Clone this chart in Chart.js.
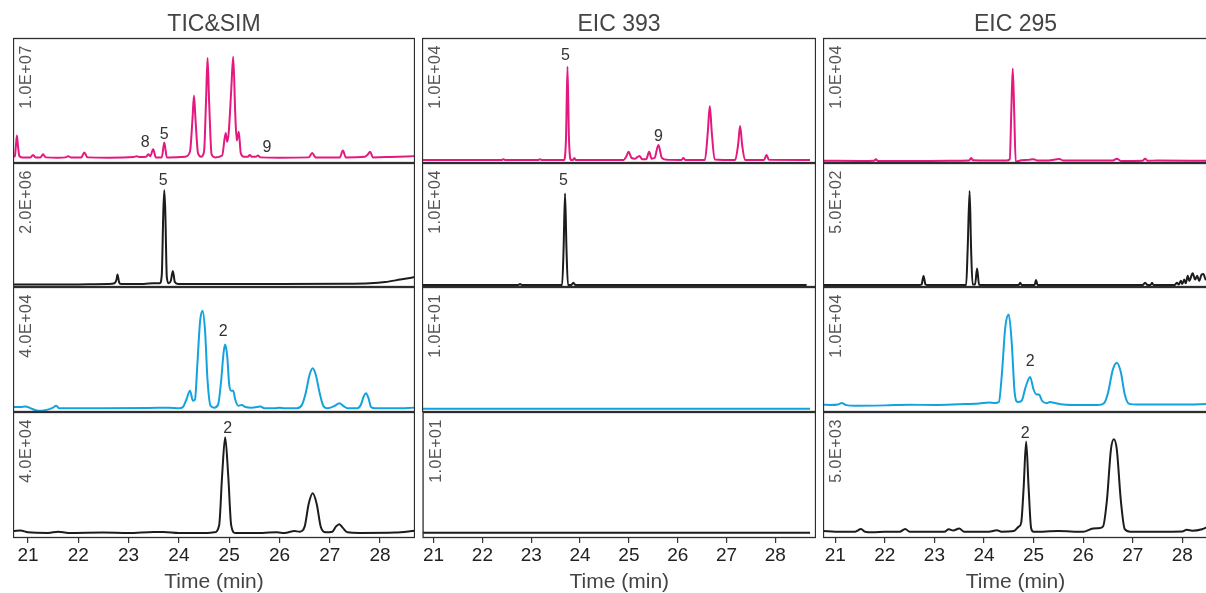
<!DOCTYPE html>
<html>
<head>
<meta charset="utf-8">
<script src="https://cdn.jsdelivr.net/npm/chart.js@4/dist/chart.umd.min.js"></script>
<style>
body{margin:0;background:#fff;width:1206px;height:593px;overflow:hidden;position:relative}
canvas{position:absolute}
</style>
</head>
<body>
<script>
// ---- data: [time (min), relative height in panel (%)] ----
var timeTicks = [21, 22, 23, 24, 25, 26, 27, 28];
var columnTitles = ['TIC&SIM', 'EIC 393', 'EIC 295'];

var ticSimScales = ['1.0E+07', '2.0E+06', '4.0E+04', '4.0E+04'];
var eic393Scales = ['1.0E+04', '1.0E+04', '1.0E+01', '1.0E+01'];
var eic295Scales = ['1.0E+04', '5.0E+02', '1.0E+04', '5.0E+03'];

var ticSimA = [[20.70,5],[20.74,5.5],[20.76,14],[20.78,22],[20.80,14],[20.83,5.5],[20.88,4.5],[21.05,4.5],[21.10,6.5],[21.15,4.5],[21.25,4.5],[21.30,7],[21.35,4.5],[21.60,4.3],[21.75,4.5],[21.80,5.5],[21.85,4.5],[22.06,4.5],[22.12,8.5],[22.18,4.5],[22.60,4.3],[23.10,4.8],[23.16,5.5],[23.22,4.8],[23.35,5],[23.39,7],[23.43,5.5],[23.49,11],[23.54,4.5],[23.66,4.5],[23.71,16.5],[23.76,4.5],[24.12,5],[24.22,9],[24.27,35],[24.30,54],[24.33,35],[24.38,8],[24.44,5],[24.50,9],[24.54,50],[24.57,84],[24.60,50],[24.65,7],[24.72,4.5],[24.86,6],[24.93,24],[24.96,17],[24.99,24],[25.04,58],[25.08,85],[25.12,40],[25.15,18],[25.19,25],[25.23,8],[25.29,5],[25.37,5],[25.41,6.5],[25.45,5],[25.53,5],[25.57,6],[25.62,4.5],[26.00,4.3],[26.58,4.5],[26.65,8],[26.72,4.5],[27.00,4.5],[27.20,4.5],[27.26,10],[27.32,4.5],[27.70,5],[27.76,7],[27.80,9],[27.86,4.5],[28.20,4.8],[28.69,5.5]];
var ticSimB = [[20.72,2],[21.50,2],[22.60,2.5],[22.72,3],[22.76,6],[22.78,10],[22.81,4],[22.85,2.5],[23.30,2.5],[23.50,3],[23.62,3],[23.66,10],[23.69,60],[23.71,78],[23.73,60],[23.76,8],[23.80,3],[23.84,5],[23.88,13],[23.92,4],[23.98,2.5],[25.00,2.5],[26.00,2.5],[27.30,2.6],[27.80,3],[28.10,4],[28.40,6],[28.69,8]];
var ticSimC = [[20.70,4],[20.85,4],[20.95,4.5],[21.05,3],[21.20,1],[21.35,1.5],[21.50,3.5],[21.56,5],[21.62,3],[21.80,3],[22.50,3],[23.40,3.2],[23.80,3.5],[24.00,3],[24.08,4],[24.15,10],[24.22,17],[24.28,9],[24.32,10],[24.37,40],[24.42,72],[24.47,81],[24.52,65],[24.57,25],[24.63,5],[24.70,3.5],[24.78,6],[24.84,25],[24.89,48],[24.92,54],[24.96,45],[25.00,22],[25.04,17],[25.08,17],[25.12,10],[25.18,5],[25.25,5.6],[25.32,4],[25.45,3.5],[25.55,4],[25.62,4.5],[25.70,3],[25.90,3],[26.00,3.5],[26.10,3],[26.35,3],[26.45,6],[26.52,15],[26.60,30],[26.66,35],[26.72,30],[26.80,15],[26.87,5],[26.95,3],[27.10,5],[27.19,7],[27.28,4.5],[27.35,3],[27.55,3],[27.62,6],[27.67,12],[27.72,15],[27.77,11],[27.82,4],[27.90,3],[28.30,3],[28.69,3.5]];
var ticSimD = [[20.72,5.5],[20.85,6],[21.00,4.5],[21.40,4],[21.60,5],[21.80,4],[22.50,4.3],[23.00,4],[23.50,4.8],[23.70,4.8],[24.00,4],[24.50,4],[24.70,4.5],[24.80,10],[24.86,50],[24.92,80],[24.98,50],[25.04,10],[25.12,4],[25.50,4],[25.95,4.5],[26.10,4],[26.30,5.5],[26.40,5],[26.50,9],[26.58,27],[26.66,35.5],[26.74,27],[26.82,9],[26.92,4.5],[27.05,5],[27.12,9],[27.19,11],[27.26,8],[27.35,4.5],[27.60,4],[28.30,4.3],[28.69,5.8]];

var eic393A = [[20.78,2.4],[22.40,2.4],[22.44,3],[22.48,2.4],[23.15,2.4],[23.19,3],[23.23,2.4],[23.68,2.4],[23.72,20],[23.75,77],[23.78,20],[23.82,2.4],[23.86,2.4],[23.89,4],[23.92,2.4],[24.90,2.5],[24.95,5],[25.00,9],[25.06,4],[25.13,3.5],[25.22,5.6],[25.28,3],[25.36,3],[25.42,9],[25.47,3.5],[25.53,4],[25.61,14.4],[25.68,4],[25.80,2.5],[26.08,2.4],[26.12,4],[26.16,2.4],[26.56,2.4],[26.62,25],[26.66,45.6],[26.70,25],[26.76,2.8],[27.18,2.4],[27.24,15],[27.28,29.6],[27.32,15],[27.38,2.5],[27.77,2.5],[27.82,6.4],[27.87,2.5],[28.71,2.4]];
var eic393B = [[20.78,1.6],[22.74,1.6],[22.78,2.5],[22.82,1.6],[23.64,1.6],[23.67,30],[23.70,75.5],[23.73,30],[23.76,1.6],[23.83,1.6],[23.87,3.5],[23.91,1.6],[28.64,1.6]];
var eic393C = [[20.78,2.6],[28.71,2.6]];
var eic393D = [[20.78,4.2],[28.71,4.2]];

var eic295A = [[20.76,1.8],[21.50,1.6],[21.78,1.8],[21.82,3],[21.86,1.6],[22.50,1.6],[23.30,1.8],[23.70,2],[23.74,4],[23.78,2.2],[24.10,2],[24.45,2],[24.52,3],[24.55,40],[24.58,75.7],[24.61,40],[24.64,1],[24.75,2.2],[24.90,2.5],[25.00,3],[25.08,2],[25.30,2],[25.52,3.2],[25.60,2],[26.00,2],[26.60,2],[26.68,3.5],[26.76,1.6],[27.20,1.8],[27.25,3.5],[27.30,1.8],[27.50,2],[28.52,1.8]];
var eic295B = [[20.76,1.6],[22.70,1.6],[22.74,2],[22.78,8.9],[22.82,2],[22.86,1.6],[23.64,1.6],[23.67,30],[23.71,77.4],[23.74,30],[23.77,2],[23.82,2],[23.86,15],[23.90,2],[23.95,1.6],[24.70,1.6],[24.73,3.5],[24.76,1.6],[25.02,1.6],[25.05,5.6],[25.08,1.6],[27.20,1.6],[27.25,3.5],[27.30,1.6],[27.36,1.6],[27.39,3.5],[27.42,1.6],[27.85,1.6],[27.89,3.5],[27.93,2],[27.97,5],[28.00,2.5],[28.04,6],[28.07,3],[28.11,9],[28.14,5],[28.21,11],[28.26,6],[28.30,9],[28.34,5],[28.39,10],[28.43,10.5],[28.47,6],[28.52,9]];
var eic295C = [[20.76,5.8],[20.90,5.6],[21.05,6],[21.13,7.2],[21.22,5.5],[21.40,5],[22.00,5.3],[22.50,5.8],[23.00,5.6],[23.50,6.2],[23.90,6.8],[24.10,7.6],[24.22,7.2],[24.30,8],[24.36,30],[24.43,68],[24.50,78],[24.56,55],[24.62,15],[24.68,8],[24.76,9],[24.84,20],[24.93,28],[25.00,18],[25.06,14],[25.11,14],[25.17,9],[25.26,7],[25.33,8],[25.45,7],[25.60,6],[25.90,5.6],[26.30,5.6],[26.42,7],[26.50,15],[26.60,34],[26.68,39.5],[26.76,32],[26.84,14],[26.93,6.5],[27.10,6],[27.50,6],[28.00,6],[28.52,6.4]];
var eic295D = [[20.76,5.5],[21.00,5],[21.40,5],[21.52,7.1],[21.60,5],[21.75,4.5],[22.00,5],[22.30,5],[22.41,7.1],[22.50,5],[23.20,5],[23.29,7],[23.38,6],[23.50,7.5],[23.60,5],[24.10,5],[24.26,6.2],[24.35,5],[24.60,5.5],[24.70,9],[24.75,12],[24.80,40],[24.85,76.5],[24.90,40],[24.95,8],[25.00,5],[25.50,5.5],[26.00,5],[26.20,7.5],[26.30,7.7],[26.40,9],[26.48,30],[26.56,70],[26.62,78.3],[26.68,70],[26.76,30],[26.84,7],[26.95,5],[27.50,5],[28.00,5.2],[28.09,6.5],[28.20,5.8],[28.40,7],[28.52,9]];

// peak numbers: [time, height %, label]
var ticSimPeaks = [[[23.33,16,'8'],[23.71,23,'5'],[25.75,12,'9']], [[23.69,86,'5']], [[24.88,64,'2']], [[24.97,87,'2']]];
var eic393Peaks = [[[23.71,86,'5'],[25.61,21,'9']], [[23.67,86,'5']], [], []];
var eic295Peaks = [[], [], [[24.93,40,'2']], [[24.83,83,'2']]];

// ---- layout ----
var FONT = '"Liberation Sans", Arial, sans-serif';
var PINK = '#e4187f', BLUE = '#14a2df', BLACK = '#1c1c1c';
var rowColors = [PINK, BLACK, BLUE, BLACK];
var rowTops = [38, 163, 287, 412];
var rowHeights = [125, 124, 125, 126];
var columns = [
    {left: 13, width: 402, min: 20.702, max: 28.694, traces: [ticSimA, ticSimB, ticSimC, ticSimD], scales: ticSimScales, peaks: ticSimPeaks},
    {left: 422, width: 394, min: 20.775, max: 28.832, traces: [eic393A, eic393B, eic393C, eic393D], scales: eic393Scales, peaks: eic393Peaks},
    {left: 823, width: 385, min: 20.752, max: 28.519, traces: [eic295A, eic295B, eic295C, eic295D], scales: eic295Scales, peaks: eic295Peaks}
];

Chart.defaults.font.family = FONT;

var panelDecor = {
    id: 'panelDecor',
    afterDraw: function(chart, args, opts){
        var ctx = chart.ctx, a = chart.chartArea;
        var xs = chart.scales.x, ys = chart.scales.y;
        ctx.save();
        ctx.strokeStyle = '#2e2e2e';
        ctx.lineWidth = 1.3;
        ctx.strokeRect(a.left + 0.5, a.top + 0.5, a.right - a.left - 1, a.bottom - a.top - 1);
        // intensity scale, rotated, inside the frame
        ctx.save();
        ctx.translate(a.left + 14, a.top + 39);
        ctx.rotate(-Math.PI / 2);
        ctx.font = '16px ' + FONT;
        ctx.letterSpacing = '0.5px';
        ctx.fillStyle = '#555';
        ctx.textAlign = 'center';
        ctx.textBaseline = 'middle';
        ctx.fillText(opts.scaleText, 0, 0);
        ctx.restore();
        // peak numbers
        ctx.font = '16px ' + FONT;
        ctx.fillStyle = '#333';
        ctx.textAlign = 'center';
        ctx.textBaseline = 'middle';
        opts.peaks.forEach(function(p){
            ctx.fillText(p[2], xs.getPixelForValue(p[0]), ys.getPixelForValue(p[1]));
        });
        ctx.restore();
    }
};

function makePanel(col, row){
    var c = columns[col];
    var bottomRow = row === 3;
    var top = row === 0 ? 0 : rowTops[row];
    var height = row === 0 ? rowTops[0] + rowHeights[0] : (bottomRow ? 593 - rowTops[3] : rowHeights[row]);
    var canvas = document.createElement('canvas');
    canvas.width = c.width;
    canvas.height = height;
    canvas.style.left = c.left + 'px';
    canvas.style.top = top + 'px';
    document.body.appendChild(canvas);

    new Chart(canvas.getContext('2d'), {
        type: 'line',
        data: {
            datasets: [{
                data: c.traces[row].map(function(p){ return {x: p[0], y: p[1]}; }),
                borderColor: rowColors[row],
                borderWidth: 2,
                pointRadius: 0,
                fill: false,
                cubicInterpolationMode: 'monotone'
            }]
        },
        options: {
            responsive: false,
            animation: false,
            devicePixelRatio: 1,
            layout: {padding: 0},
            events: [],
            plugins: {
                legend: {display: false},
                tooltip: {enabled: false},
                title: {
                    display: row === 0,
                    text: columnTitles[col],
                    color: '#444',
                    font: {size: 23, weight: 'normal', family: FONT, lineHeight: 1.1},
                    padding: {top: 12, bottom: 0.7}
                },
                panelDecor: {scaleText: c.scales[row], peaks: c.peaks[row]}
            },
            scales: {
                x: {
                    type: 'linear',
                    min: c.min,
                    max: c.max,
                    display: bottomRow,
                    afterBuildTicks: function(s){ s.ticks = timeTicks.map(function(v){ return {value: v}; }); },
                    afterFit: function(s){ if (bottomRow) s.height = 55; },
                    border: {display: false},
                    grid: {drawOnChartArea: false, drawTicks: true, tickLength: 5, color: '#333', lineWidth: 1.2},
                    ticks: {color: '#222', font: {size: 19}, padding: 1, maxRotation: 0, autoSkip: false},
                    title: {display: true, text: 'Time (min)', color: '#444', font: {size: 21, lineHeight: 1}, padding: {top: 0, bottom: 0}}
                },
                y: {min: 0, max: 100, display: false}
            }
        },
        plugins: [panelDecor]
    });
}

for (var col = 0; col < 3; col++){
    for (var row = 0; row < 4; row++){
        makePanel(col, row);
    }
}
</script>
</body>
</html>
